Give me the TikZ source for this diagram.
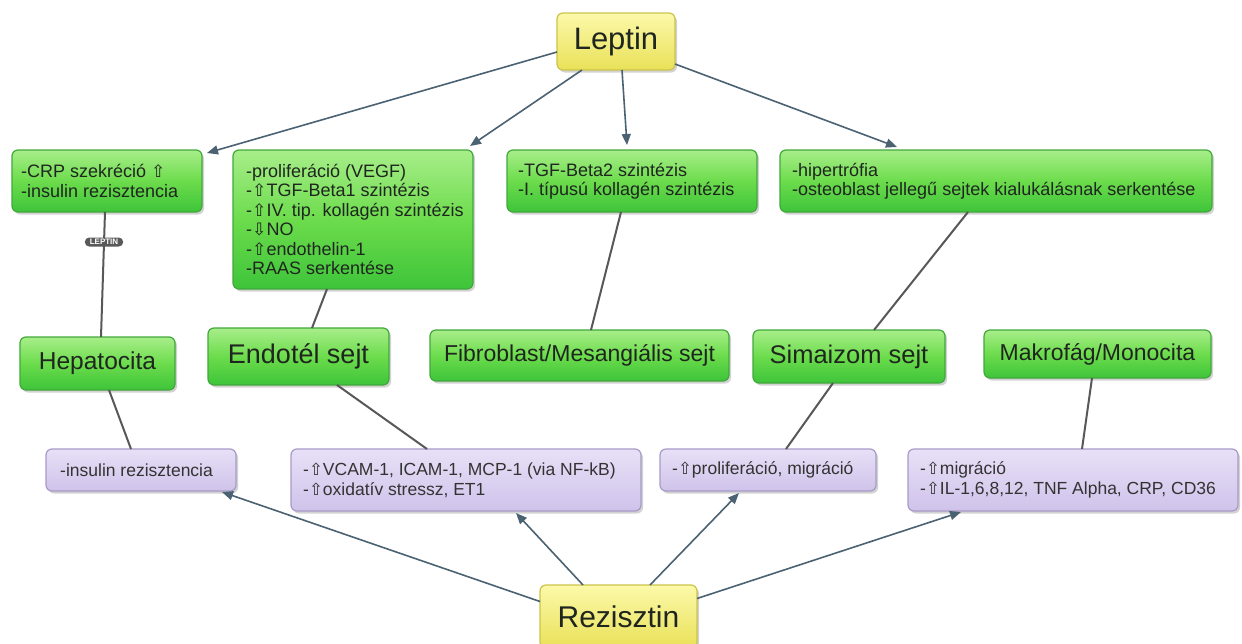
\documentclass[tikz,border=0pt]{standalone}
\usepackage{fontspec}
\setmainfont{Liberation Sans}
\newfontfamily\symf[Scale=0.95]{DejaVu Sans}
\newcommand{\upa}{{\symf ⇧}}
\newcommand{\dna}{{\symf ⇩}}
\usetikzlibrary{arrows.meta,shadows}
\definecolor{gtop}{HTML}{A8EE8A}
\definecolor{gmid}{HTML}{6CDC4C}
\definecolor{gbot}{HTML}{3EC43A}
\definecolor{gbord}{HTML}{41A83C}
\definecolor{ptop}{HTML}{E8E0F7}
\definecolor{pbot}{HTML}{CFC3EA}
\definecolor{pbord}{HTML}{A89BC8}
\definecolor{ytop}{HTML}{FCF9AA}
\definecolor{ybot}{HTML}{E9E158}
\definecolor{ybord}{HTML}{CBC44C}
\definecolor{arrc}{HTML}{4B6273}
\definecolor{linec}{HTML}{585858}
\definecolor{txt}{HTML}{1F261F}
\tikzset{
  base/.style={draw, rounded corners=6pt, line width=1.2pt, anchor=north west,
    inner sep=0pt, outer sep=0pt,
    drop shadow={shadow xshift=2pt, shadow yshift=-2.5pt, opacity=0.35}, text=txt},
  greenbox/.style={base, draw=gbord, top color=gtop, bottom color=gbot, middle color=gmid},
  purplebox/.style={base, draw=pbord, top color=ptop, bottom color=pbot},
  yellowbox/.style={base, draw=ybord, top color=ytop, bottom color=ybot},
  gtext/.style={anchor=west, align=left, inner sep=0pt, text=txt,
    font=\fontsize{18}{19.5}\selectfont},
  ptext/.style={anchor=west, align=left, inner sep=0pt, text=black!80,
    font=\fontsize{17.5}{20}\selectfont},
  arr/.style={draw=arrc, line width=1.6pt, -{Triangle[length=11pt,width=9pt]}},
  lin/.style={draw=linec, line width=2pt},
  pill/.style={fill=black!65, rounded corners=4.5pt, text=white, inner xsep=5pt,
    inner ysep=1pt, minimum height=9pt, font=\fontsize{8}{8}\selectfont\bfseries}
}
\begin{document}
\begin{tikzpicture}[x=1pt,y=-1pt]
\useasboundingbox (0,0) rectangle (1242,643);
\fill[white] (0,0) rectangle (1242,643);

% top and bottom
\node[yellowbox, minimum width=118pt, minimum height=57pt,
  font=\fontsize{31}{31}\selectfont] (lep) at (557,13) {Leptin};
\node[yellowbox, minimum width=157pt, minimum height=63pt,
  font=\fontsize{30}{30}\selectfont] (rez) at (540,585) {Rezisztin};

% green effect boxes
\node[greenbox, minimum width=190pt, minimum height=62pt] (crp) at (12,150) {};
\node[gtext] (crpt) at ([xshift=9pt]crp.west) {-CRP szekréció \upa\\-insulin rezisztencia};
\node[greenbox, minimum width=240pt, minimum height=139pt] (prolif) at (233,150) {};
\node[gtext] (prolift) at ([xshift=13pt]prolif.west) {-proliferáció (VEGF)\\-\upa TGF-Beta1 szintézis\\-\upa IV. tip. kollagén szintézis\\-\dna NO\\-\upa endothelin-1\\-RAAS serkentése};
\node[greenbox, minimum width=250pt, minimum height=62pt] (tgf) at (507,150) {};
\node[gtext] (tgft) at ([xshift=11pt]tgf.west) {-TGF-Beta2 szintézis\\-I. típusú kollagén szintézis};
\node[greenbox, minimum width=432pt, minimum height=62pt] (hip) at (780,150) {};
\node[gtext] (hipt) at ([xshift=12pt]hip.west) {-hipertrófia\\-osteoblast jellegű sejtek kialukálásnak serkentése};

% cell boxes
\node[greenbox, minimum width=155pt, minimum height=53pt,
  font=\fontsize{24.5}{24.5}\selectfont] (hep) at (20,337) {Hepatocita};
\node[greenbox, minimum width=181pt, minimum height=57pt,
  font=\fontsize{27}{27}\selectfont] (endo) at (208,328) {Endotél sejt};
\node[greenbox, minimum width=299pt, minimum height=51pt,
  font=\fontsize{23}{23}\selectfont] (fib) at (430,330) {Fibroblast/Mesangiális sejt};
\node[greenbox, minimum width=192pt, minimum height=53pt,
  font=\fontsize{25.5}{25.5}\selectfont] (sim) at (753,330) {Simaizom sejt};
\node[greenbox, minimum width=227pt, minimum height=48pt,
  font=\fontsize{23}{23}\selectfont] (mak) at (984,330) {Makrofág/Monocita};

% purple boxes
\node[purplebox, minimum width=190pt, minimum height=42pt] (ins) at (46,449) {};
\node[ptext] (inst) at ([xshift=14pt]ins.west) {-insulin rezisztencia};
\node[purplebox, minimum width=350pt, minimum height=62pt] (vcam) at (291,449) {};
\node[ptext] (vcamt) at ([xshift=12pt]vcam.west) {-\upa VCAM-1, ICAM-1, MCP-1 (via NF-kB)\\-\upa oxidatív stressz, ET1};
\node[purplebox, minimum width=216pt, minimum height=42pt] (pm) at (660,449) {};
\node[ptext] (pmt) at ([xshift=12pt]pm.west) {-\upa proliferáció, migráció};
\node[purplebox, minimum width=330pt, minimum height=62pt] (il) at (908,449) {};
\node[ptext] (ilt) at ([xshift=12pt]il.west) {-\upa migráció\\-\upa IL-1,6,8,12, TNF Alpha, CRP, CD36};

% plain connectors
\draw[lin] (105,0 |- crp.south) -- (101,0 |- hep.north);
\draw[lin] (327,0 |- prolif.south) -- (312,0 |- endo.north);
\draw[lin] (621,0 |- tgf.south) -- (591,0 |- fib.north);
\draw[lin] (968,0 |- hip.south) -- (874,0 |- sim.north);
\draw[lin] (109,0 |- hep.south) -- (131,0 |- ins.north);
\draw[lin] (337,0 |- endo.south) -- (427,0 |- vcam.north);
\draw[lin] (833,0 |- sim.south) -- (786,0 |- pm.north);
\draw[lin] (1092,0 |- mak.south) -- (1082,0 |- il.north);
\node[pill] (lab) at (104,242) {LEPTIN};

% Leptin arrows
\draw[arr] (lep.west |- 0,52) -- ([xshift=5pt,yshift=-3pt]crp.north east);
\draw[arr] (582,0 |- lep.south) -- ([xshift=-3pt,yshift=4pt]prolif.north east);
\draw[arr] (622,0 |- lep.south) -- ([xshift=-5pt,yshift=5pt]tgf.north);
\draw[arr] ([yshift=6pt]lep.south east) -- ([xshift=117pt,yshift=3pt]hip.north west);

% Rezisztin arrows
\draw[arr] ([yshift=15pt]rez.west) -- ([xshift=-14pt,yshift=-1pt]ins.south east);
\draw[arr] (583,0 |- rez.north) -- ([xshift=225pt,yshift=-2pt]vcam.south west);
\draw[arr] (650,0 |- rez.north) -- ([xshift=79pt,yshift=-2pt]pm.south west);
\draw[arr] ([yshift=18pt]rez.east) -- ([xshift=53pt,yshift=-1pt]il.south west);
\end{tikzpicture}
\end{document}
